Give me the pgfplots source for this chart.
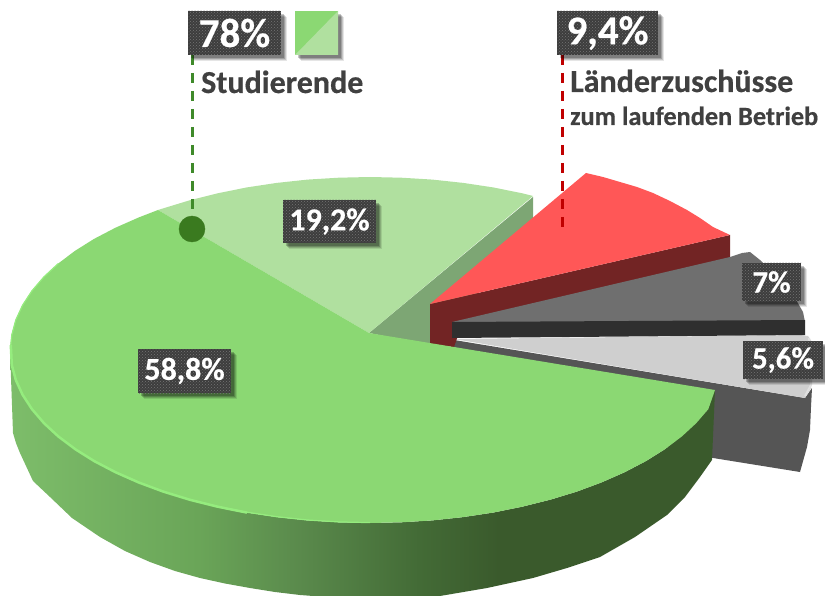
\documentclass[border=0pt]{standalone}
\usepackage{fontspec}
\setmainfont[BoldFeatures={FakeBold=0.5}]{Carlito}
\usepackage{pgfplots}
\pgfplotsset{compat=1.18}
\usetikzlibrary{patterns,shadows}
\definecolor{mgreen}{HTML}{8BD873}
\definecolor{lgreen}{HTML}{B0E09F}
\definecolor{wgreen}{HTML}{7DA674}
\definecolor{hgreen}{HTML}{95EC7E}
\definecolor{dgreen}{HTML}{3A7A1F}
\definecolor{lgreenline}{HTML}{3F8A2A}
\definecolor{mred}{HTML}{FF5757}
\definecolor{dred}{HTML}{722424}
\definecolor{lineRed}{HTML}{C00000}
\definecolor{g1}{HTML}{6F6F6F}
\definecolor{g2}{HTML}{2F2F2F}
\definecolor{g3}{HTML}{CFCFCF}
\definecolor{g4}{HTML}{555555}
\definecolor{boxc}{HTML}{3D3D3D}
\definecolor{dotc}{HTML}{757575}
\definecolor{txt}{HTML}{404040}
\definecolor{sa}{HTML}{7DBD6A}
\definecolor{sb}{HTML}{6AA558}
\definecolor{sc}{HTML}{5A8A4C}
\definecolor{sd}{HTML}{436B36}
\definecolor{se}{HTML}{3A5A2C}
\pgfdeclarehorizontalshading{sideg}{100bp}{
 color(0bp)=(sa); color(25bp)=(sa); color(38.4bp)=(sb); color(45.5bp)=(sc); color(54bp)=(sd); color(59.7bp)=(se); color(100bp)=(se)}
\tikzset{softshadow/.style={
  drop shadow={shadow xshift=6pt,shadow yshift=-6pt,opacity=0.10,fill=black},
  drop shadow={shadow xshift=5pt,shadow yshift=-5pt,opacity=0.14,fill=black},
  drop shadow={shadow xshift=4pt,shadow yshift=-4pt,opacity=0.18,fill=black},
  drop shadow={shadow xshift=3pt,shadow yshift=-3pt,opacity=0.22,fill=black}},
  lab/.style={fill=boxc,postaction={pattern=crosshatch dots,pattern color=dotc},
  softshadow,text=white,font=\bfseries,inner sep=0pt,anchor=center}}
\begin{document}
\begin{tikzpicture}
\begin{axis}[at={(0,0)},anchor=south west,scale only axis,width=825pt,height=596pt,
  xmin=0,xmax=825,ymin=0,ymax=596,y dir=reverse,hide axis,clip=true,clip mode=individual]
% grey slice side 5.6
\addplot[fill=g4,draw=none] coordinates {(454,340)(805,398)(812,388)(811,407)(810,430)(807,447)(800,472)(713,458)(640,440)(454,347)} --cycle;
% light grey top
\addplot[fill=g3,draw=none] coordinates {(454,339)(800,335)(808,336)(812,342)(813,370)(811,388)(805,398)} --cycle;
\addplot[color=white!88!black,line width=2pt] coordinates {(809,338)(811.5,360)(811,385)(805,396)};
% light green wall
\addplot[fill=wgreen,draw=none] coordinates {(369,333)(533,197)(533,235)(470,300)(430,345)} --cycle;
% light green top
\addplot[fill=lgreen,draw=none] coordinates {(369,333)(158,210)(163.4,208.3)(190,200.2)(217.7,193.3)(246.9,187.4)(276.8,182.9)(307.5,179.6)(338.6,177.7)(370,177)(401.4,177.7)(432.5,179.6)(463.2,182.9)(493.1,187.4)(522.3,193.3)(533,196)} --cycle;
% red side
\addplot[fill=dred,draw=none] coordinates {(430,304)(730,235)(730,260)(460,330)(454,347)(430,345)} --cycle;
% red top
\addplot[fill=mred,draw=none] coordinates {(430,304)(586,173)(603,177)(620,182)(637,187)(653,193)(670,201)(687,210)(700,218)(713,227)(730,235)} --cycle;
% dark grey top
\addplot[fill=g1,draw=none] coordinates {(452,322)(730,257)(742,253)(750,252)(760,260)(778,277)(795,298)(803,312)(805,322)} --cycle;
% dark grey side
\addplot[fill=g2,draw=none] coordinates {(452,322)(805,320)(805,335)(452,338)} --cycle;
% green side
\addplot[shading=sideg,draw=none] coordinates {(10,350)(11.4,365)(15.5,380)(22.3,394.8)(31.7,409.2)(43.8,423.2)(58.2,436.5)(75.2,449.3)(94.2,461.2)(115.5,472.3)(138.6,482.5)(163.4,491.7)(190,499.8)(217.7,506.7)(246.9,512.6)(276.8,517.1)(307.5,520.4)(338.6,522.3)(370,523)(401.4,522.3)(432.5,520.4)(463.2,517.1)(493.1,512.6)(522.3,506.7)(550,499.8)(576.6,491.7)(601.4,482.5)(624.5,472.3)(645.8,461.2)(664.8,449.3)(681.8,436.5)(696.2,423.2)(708.3,409.2)(715,390)(712,460)(700,477)(685,497)(667,515)(635,537)(600,557)(567,568)(533,578)(487,588)(440,596)(405,599)(370,600)(340,598)(300,595)(275,592)(250,588)(225,583.5)(200,578)(175,571)(150,562)(125,551)(100,537)(72,518)(50,497)(33,481)(20,453)(16,443)(13,433)} --cycle;
% green top
\addplot[fill=mgreen,draw=none] coordinates {(369,333)(158,210)(138.6,217.5)(115.5,227.7)(94.2,238.8)(75.2,250.7)(58.2,263.5)(43.8,276.8)(31.7,290.8)(22.3,305.2)(15.5,320)(11.4,335)(10,350)(11.4,365)(15.5,380)(22.3,394.8)(31.7,409.2)(43.8,423.2)(58.2,436.5)(75.2,449.3)(94.2,461.2)(115.5,472.3)(138.6,482.5)(163.4,491.7)(190,499.8)(217.7,506.7)(246.9,512.6)(276.8,517.1)(307.5,520.4)(338.6,522.3)(370,523)(401.4,522.3)(432.5,520.4)(463.2,517.1)(493.1,512.6)(522.3,506.7)(550,499.8)(576.6,491.7)(601.4,482.5)(624.5,472.3)(645.8,461.2)(664.8,449.3)(681.8,436.5)(696.2,423.2)(708.3,409.2)(715,390)} --cycle;
% rim highlight
\addplot[hgreen,line width=2.5pt] coordinates {(10.8,345)(11.8,365)(15.8,380)(22.6,394.8)(32,409.2)(44,423.2)(58.4,436.5)(75.4,449.3)(94.4,461.2)(115.7,472.3)(138.8,482.5)(163.6,491.7)(190,499.8)(217.7,506.7)(246.9,512.6)};
\addplot[hgreen,line width=1.2pt] coordinates {(246.9,512.2)(276.8,516.7)(307.5,520)(338.6,521.9)(370,522.6)};
\addplot[hgreen,line width=1.2pt] coordinates {(10.8,345)(11.8,335)(15.8,320)(22.6,305.2)(32,290.8)(44,276.8)(58.4,263.5)};
% guide lines
\addplot[lgreenline,line width=3pt,dash pattern=on 10pt off 8pt] coordinates {(192,55)(192,211)};
\addplot[dgreen,only marks,mark=*,mark size=13pt,mark options={draw=none,fill=dgreen}] coordinates {(192,229)};
\addplot[lineRed,line width=3pt,dash pattern=on 10pt off 8pt] coordinates {(562,55)(562,228)};
% legend square
\addplot[fill=mgreen,draw=none,softshadow] coordinates {(295,11)(338,11)(338,55)(295,55)} --cycle;
\addplot[fill=lgreen,draw=none] coordinates {(338,11)(338,55)(295,55)} --cycle;
% labels
\node[lab,minimum width=93pt,minimum height=44pt,font=\bfseries\fontsize{41}{41}\selectfont] at (axis cs:234.5,33) {78\%};
\node[lab,minimum width=101pt,minimum height=44pt,font=\bfseries\fontsize{41}{41}\selectfont] at (axis cs:607.5,33) {9,4\%};
\node[lab,minimum width=93pt,minimum height=43pt,font=\bfseries\fontsize{32}{32}\selectfont] at (axis cs:329.5,221.5) {19,2\%};
\node[lab,minimum width=93pt,minimum height=44pt,font=\bfseries\fontsize{32}{32}\selectfont] at (axis cs:184.5,371) {58,8\%};
\node[lab,minimum width=59pt,minimum height=38pt,font=\bfseries\fontsize{31}{31}\selectfont] at (axis cs:771.5,282) {7\%};
\node[lab,minimum width=80pt,minimum height=38pt,font=\bfseries\fontsize{31}{31}\selectfont] at (axis cs:783,360) {5,6\%};
\node[anchor=base west,inner sep=0pt,text=txt,font=\bfseries\fontsize{32}{32}\selectfont] at (axis cs:201,93) {Studierende};
\node[anchor=base west,inner sep=0pt,text=txt,font=\bfseries\fontsize{32}{32}\selectfont] at (axis cs:570,92) {Länderzuschüsse};
\node[anchor=base west,inner sep=0pt,text=txt,font=\bfseries\fontsize{26.3}{26.3}\selectfont] at (axis cs:570,125) {zum laufenden Betrieb};
\end{axis}
\pgfresetboundingbox
\useasboundingbox (0,0) rectangle (825pt,596pt);
\end{tikzpicture}
\end{document}
